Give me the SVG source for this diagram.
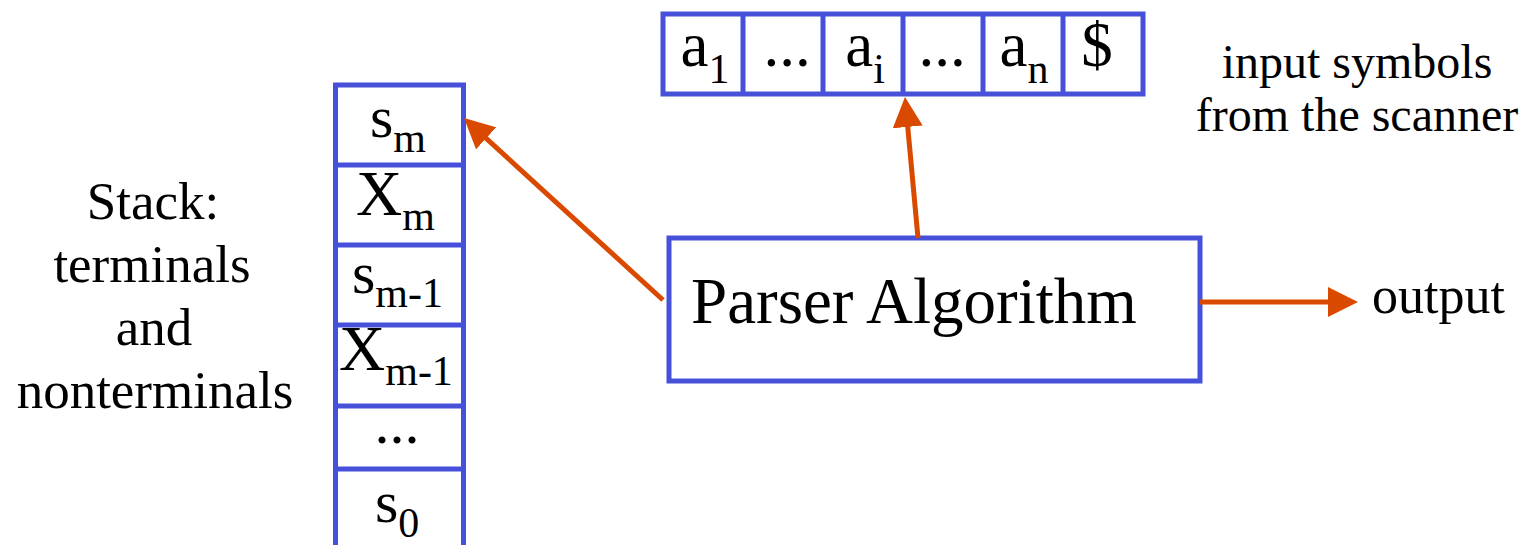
<svg xmlns="http://www.w3.org/2000/svg" width="1524" height="545" viewBox="0 0 1524 545">
  <style>
    .box { fill: #ffffff; stroke: #4650D8; stroke-width: 5; }
    .div { stroke: #4650D8; stroke-width: 5; }
    .t { font-family: "Liberation Serif", "Times New Roman", serif; fill: #000000; }
    .sub { font-size: 42px; }
    .edge { stroke: #D94A00; stroke-width: 5; fill: none; marker-end: url(#head); }
  </style>
  <defs>
    <marker id="head" markerUnits="userSpaceOnUse" markerWidth="30" markerHeight="30" refX="20" refY="15" orient="auto" viewBox="0 0 30 30">
      <path d="M0,0 L30,15 L0,30 Z" fill="#D94A00"/>
    </marker>
  </defs>

  <rect width="1524" height="545" fill="#ffffff"/>

  <!-- input tape -->
  <g id="input-tape">
    <rect class="box" x="663" y="14" width="480" height="80"/>
    <line class="div" x1="743" y1="14" x2="743" y2="94"/>
    <line class="div" x1="823" y1="14" x2="823" y2="94"/>
    <line class="div" x1="903" y1="14" x2="903" y2="94"/>
    <line class="div" x1="983" y1="14" x2="983" y2="94"/>
    <line class="div" x1="1063" y1="14" x2="1063" y2="94"/>
    <g class="t" font-size="63">
      <text x="705" y="66" text-anchor="middle">a<tspan class="sub" dy="17">1</tspan></text>
      <text x="787" y="66" text-anchor="middle">...</text>
      <text x="865" y="66" text-anchor="middle">a<tspan class="sub" dy="17">i</tspan></text>
      <text x="942" y="66" text-anchor="middle">...</text>
      <text x="1024" y="66" text-anchor="middle">a<tspan class="sub" dy="17">n</tspan></text>
      <text x="1097" y="66" text-anchor="middle">$</text>
    </g>
  </g>

  <g id="input-label" class="t" font-size="48" text-anchor="middle">
    <text x="1357" y="78">input symbols</text>
    <text x="1357" y="131">from the scanner</text>
  </g>

  <!-- parse stack -->
  <g id="stack">
    <rect class="box" x="335.5" y="85" width="128" height="470"/>
    <line class="div" x1="335.5" y1="165" x2="463.5" y2="165"/>
    <line class="div" x1="335.5" y1="245" x2="463.5" y2="245"/>
    <line class="div" x1="335.5" y1="325" x2="463.5" y2="325"/>
    <line class="div" x1="335.5" y1="406" x2="463.5" y2="406"/>
    <line class="div" x1="335.5" y1="469" x2="463.5" y2="469"/>
    <g class="t" font-size="60">
      <text x="370" y="137">s<tspan class="sub" dy="15">m</tspan></text>
      <text x="356" y="215" font-size="64">X<tspan class="sub" dy="15">m</tspan></text>
      <text x="352" y="293">s<tspan class="sub" dy="14">m-1</tspan></text>
      <text x="339" y="370" font-size="64">X<tspan class="sub" dy="15">m-1</tspan></text>
      <text x="397" y="443" text-anchor="middle">...</text>
      <text x="375" y="522">s<tspan class="sub" dy="15">0</tspan></text>
    </g>
  </g>

  <g id="stack-label" class="t" font-size="53" text-anchor="middle">
    <text x="153" y="219">Stack:</text>
    <text x="152" y="282">terminals</text>
    <text x="154" y="345">and</text>
    <text x="155" y="408">nonterminals</text>
  </g>

  <!-- parser driver -->
  <g id="parser">
    <rect class="box" x="669" y="238" width="531" height="143"/>
    <text class="t" x="691" y="323" font-size="65">Parser Algorithm</text>
  </g>

  <g id="output-label">
    <text class="t" x="1372" y="313" font-size="52">output</text>
  </g>

  <!-- connectors -->
  <g id="connectors">
    <line class="edge" x1="663" y1="300" x2="471.4" y2="124.8"/>
    <line class="edge" x1="918" y1="238" x2="905.9" y2="107"/>
    <line class="edge" x1="1200" y1="302" x2="1348" y2="302"/>
  </g>
</svg>
